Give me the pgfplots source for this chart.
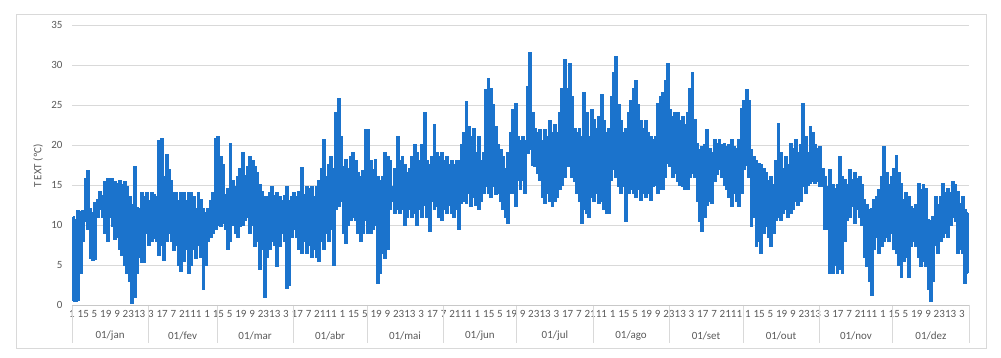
\documentclass[border=0pt]{standalone}
\usepackage{fontspec}
\setmainfont{Carlito}
\usepackage{pgfplots}
\usepackage{pgfplotstable}
\pgfplotsset{compat=1.18}

\definecolor{tblue}{RGB}{27,115,204}
\definecolor{gridgray}{RGB}{217,217,217}
\definecolor{axgray}{RGB}{200,200,200}
\definecolor{txtgray}{RGB}{89,89,89}

% daily min / max of the hourly outdoor temperature (one row per day)
\pgfplotstableread{
lo hi
% jan
0.5 11.0
0.5 10.6
0.6 11.8
4.0 11.7
8.0 11.8
10.5 15.8
9.5 16.8
5.8 12.0
5.6 11.5
5.7 12.8
11.0 13.2
12.0 14.2
11.0 13.6
9.0 15.4
8.0 15.8
11.0 15.8
9.8 15.8
8.2 15.4
8.5 15.2
7.0 15.5
6.2 15.0
5.0 15.4
4.0 14.8
3.0 13.5
0.2 12.5
1.0 17.3
4.0 12.2
6.0 12.0
5.3 14.0
5.3 13.5
9.0 14.0
% fev
7.5 13.0
8.0 14.0
8.3 13.8
8.0 13.5
6.2 20.5
7.5 20.8
5.6 16.0
8.0 18.8
9.0 16.9
8.0 15.5
6.8 14.0
7.5 14.0
5.0 13.0
4.2 14.0
5.5 14.0
7.0 13.0
4.0 14.0
5.0 14.0
7.0 13.5
5.8 12.0
7.5 14.0
6.0 13.2
2.0 12.0
5.0 11.5
8.0 12.0
8.5 13.0
9.0 14.0
9.5 20.8
% mar
10.0 21.0
9.8 18.5
10.2 17.5
9.5 13.8
6.9 14.5
8.0 20.2
10.0 15.5
9.0 14.8
8.5 16.0
9.8 17.0
10.0 19.0
10.6 16.2
11.0 17.3
9.0 18.5
10.0 18.0
7.3 17.3
8.0 16.5
4.4 15.0
7.0 14.2
1.0 13.5
6.0 13.5
7.0 14.0
8.0 14.8
7.5 13.6
4.8 14.0
7.3 13.5
9.0 13.0
8.0 13.6
2.1 14.8
2.5 13.0
8.5 13.5
% abr
9.5 14.0
8.5 13.5
7.0 14.2
6.5 17.1
8.0 13.8
6.5 14.8
7.5 14.5
6.0 14.8
7.0 13.5
6.0 14.8
5.4 15.5
8.0 17.0
7.0 20.6
9.0 16.0
8.0 17.5
9.5 18.5
5.0 17.0
12.0 24.0
12.3 25.8
13.0 21.0
9.0 17.3
7.7 18.1
10.0 17.0
10.6 18.5
11.0 19.0
10.6 18.0
9.0 16.5
7.9 16.0
9.0 16.8
10.6 21.9
% mai
9.0 21.9
9.0 18.0
9.5 16.9
10.0 18.1
2.7 16.0
4.0 15.5
6.5 16.0
5.8 19.0
7.0 18.5
12.0 18.0
13.0 14.8
11.5 17.0
12.0 21.0
11.5 18.0
12.0 18.5
10.0 17.5
11.0 16.5
11.9 17.0
11.0 18.5
11.5 20.0
10.0 19.0
12.0 18.0
11.0 20.0
12.5 24.0
11.0 18.0
9.2 17.5
13.0 18.5
12.0 22.5
12.3 19.0
11.0 18.5
10.6 19.0
% jun
12.0 18.0
11.5 18.5
12.5 17.5
11.5 18.0
11.0 17.5
12.0 18.0
9.4 18.0
12.7 20.0
13.0 21.5
12.7 25.4
14.0 22.3
12.3 21.0
13.5 22.0
12.5 19.0
11.9 21.0
13.0 18.0
14.0 19.0
14.8 26.9
14.0 28.3
13.5 27.0
14.8 25.0
13.8 22.3
14.0 20.0
13.0 19.4
12.0 18.5
11.0 17.0
10.2 19.0
14.0 21.5
14.0 24.4
12.3 25.2
% jul
15.6 21.0
14.5 20.5
15.6 21.0
14.0 20.5
19.0 27.3
19.4 31.5
17.5 24.0
17.3 22.0
16.5 21.5
15.6 21.9
13.5 20.5
12.7 21.9
14.0 21.0
13.0 23.0
12.3 21.5
13.0 22.5
13.5 21.5
14.5 24.0
15.0 27.0
16.0 30.6
17.3 27.0
17.3 30.2
16.0 26.0
15.5 22.0
14.0 21.5
13.0 22.0
10.2 21.0
12.0 26.5
11.5 24.0
11.0 21.0
13.5 24.4
% ago
13.0 23.1
14.0 22.0
12.7 23.5
13.0 26.3
12.0 23.0
11.5 21.5
11.5 22.0
15.6 26.0
17.0 29.0
16.0 31.0
14.8 25.0
14.0 23.0
14.8 21.5
10.4 22.0
14.0 24.0
14.5 25.5
14.0 27.0
13.5 28.0
14.5 25.0
13.1 23.0
14.0 22.0
13.5 23.0
14.0 21.5
13.1 21.0
14.8 20.6
15.0 21.0
14.0 25.2
14.5 26.0
14.4 26.5
16.0 28.0
17.7 30.2
% set
17.3 24.4
16.0 23.5
16.5 24.0
15.5 24.0
15.0 23.0
14.8 23.5
14.4 22.5
14.4 24.0
16.0 27.0
16.5 29.0
16.0 23.1
13.0 20.2
10.5 19.4
9.2 19.8
11.0 20.0
12.5 21.9
13.0 19.5
12.7 19.0
15.5 20.6
16.3 20.2
16.9 20.6
16.0 20.0
15.0 20.2
14.5 19.8
13.5 20.0
12.3 20.6
14.0 19.8
13.0 19.5
12.3 20.6
14.0 24.5
% out
17.0 25.5
17.5 26.9
16.0 25.5
9.8 19.4
11.0 18.5
7.3 18.0
8.0 17.7
6.5 17.5
9.0 17.0
9.8 16.5
8.5 15.5
7.3 16.0
9.0 15.0
10.6 18.0
11.0 22.7
10.6 19.0
11.5 17.0
12.0 18.5
11.0 17.5
11.5 20.2
12.0 19.5
13.0 20.6
12.5 19.0
13.0 20.0
14.8 25.2
14.0 21.0
15.0 19.0
15.2 22.3
15.5 21.5
15.2 20.0
15.5 19.5
% nov
14.8 19.8
14.8 17.0
9.4 16.0
9.5 14.8
4.0 16.9
4.0 15.0
5.0 14.5
4.0 15.0
4.5 18.5
4.0 16.0
8.0 15.6
10.6 15.0
11.0 16.9
12.3 15.6
10.2 16.5
12.0 15.8
11.0 16.0
10.0 15.0
6.0 13.1
4.8 12.5
3.0 11.9
1.2 12.0
7.0 13.1
8.5 13.5
6.5 14.4
7.3 16.0
8.0 19.8
8.5 16.5
8.0 15.0
9.0 16.0
% dez
7.0 17.0
6.5 18.7
5.0 16.5
3.5 15.2
5.5 13.1
6.0 14.0
3.5 13.5
7.3 12.3
8.0 12.0
7.3 12.5
6.0 15.2
4.8 14.4
5.5 15.0
4.8 14.5
2.0 10.6
0.4 10.5
3.0 11.0
7.5 13.5
6.5 12.5
8.0 13.5
8.5 15.2
9.0 14.0
8.5 14.5
10.0 14.0
11.0 15.4
10.5 15.0
6.5 14.2
7.0 12.7
6.5 13.5
2.7 11.9
4.0 11.5
}\tdata

\tikzset{lbl/.style={text=txtgray, font=\fontsize{11}{13}\selectfont}}

\begin{document}
\begin{tikzpicture}
\useasboundingbox (0,0) rectangle (1001pt,358pt);
\draw[gridgray] (16pt,10pt) rectangle (986pt,344pt);
\begin{axis}[
    at={(72pt,53pt)}, anchor=south west,
    scale only axis,
    width=897pt, height=280pt,
    xmin=0, xmax=365,
    ymin=0, ymax=35,
    clip=false,
    axis line style={draw=none},
    major tick length=0pt,
    ytick={0,5,...,35},
    ymajorgrids,
    grid style={gridgray, line width=0.8pt},
    xtick={0,4.5833333,...,362.2},
    xticklabels={1,15,5,19,9,23,13,3,17,7,21,11,1,15,5,19,9,23,13,3,17,7,21,11,
                 1,15,5,19,9,23,13,3,17,7,21,11,1,15,5,19,9,23,13,3,17,7,21,11,
                 1,15,5,19,9,23,13,3,17,7,21,11,1,15,5,19,9,23,13,3,17,7,21,11,
                 1,15,5,19,9,23,13,3,17,7,21,11},
    tick label style={font=\fontsize{11}{13}\selectfont, text=txtgray},
    /pgf/number format/assume math mode=true,
    yticklabel style={xshift=-6pt},
    xticklabel style={yshift=-2pt},
  ]
  % month groups of the category axis (drawn first, under the labels)
  \pgfplotsinvokeforeach{0,31,59,90,120,151,181,212,243,273,304,334,365}{
    \draw[gridgray, line width=0.8pt] (axis cs:#1,0) -- ++(0,-38pt);
  }
  \draw[axgray, line width=0.8pt] (axis cs:0,0) -- (axis cs:365,0);

  % each day: vertical stroke from the daily min to the daily max
  \addplot[draw=none, mark=none,
    error bars/.cd, y dir=plus, y explicit,
    error bar style={draw=tblue, line width=2.6pt}, error mark=none]
    table[x expr=\coordindex+0.5, y=lo, y error expr=\thisrow{hi}-\thisrow{lo}] {\tdata};
  % blocky edges like the hourly steps of the original line
  \addplot[tblue, line width=1.4pt, mark=none, const plot mark mid]
    table[x expr=\coordindex+0.5, y=lo] {\tdata};
  \addplot[tblue, line width=1.4pt, mark=none, const plot mark mid]
    table[x expr=\coordindex+0.5, y=hi] {\tdata};

  \node[lbl] at ([yshift=-31pt]axis cs:15.5,0) {01/jan};
  \node[lbl] at ([yshift=-31pt]axis cs:45,0) {01/fev};
  \node[lbl] at ([yshift=-31pt]axis cs:74.5,0) {01/mar};
  \node[lbl] at ([yshift=-31pt]axis cs:105,0) {01/abr};
  \node[lbl] at ([yshift=-31pt]axis cs:135.5,0) {01/mai};
  \node[lbl] at ([yshift=-31pt]axis cs:166,0) {01/jun};
  \node[lbl] at ([yshift=-31pt]axis cs:196.5,0) {01/jul};
  \node[lbl] at ([yshift=-31pt]axis cs:227.5,0) {01/ago};
  \node[lbl] at ([yshift=-31pt]axis cs:258,0) {01/set};
  \node[lbl] at ([yshift=-31pt]axis cs:288.5,0) {01/out};
  \node[lbl] at ([yshift=-31pt]axis cs:319,0) {01/nov};
  \node[lbl] at ([yshift=-31pt]axis cs:349.5,0) {01/dez};
\end{axis}
\node[rotate=90, lbl] at (38pt,192pt) {T EXT (ºC)};
\end{tikzpicture}
\end{document}
